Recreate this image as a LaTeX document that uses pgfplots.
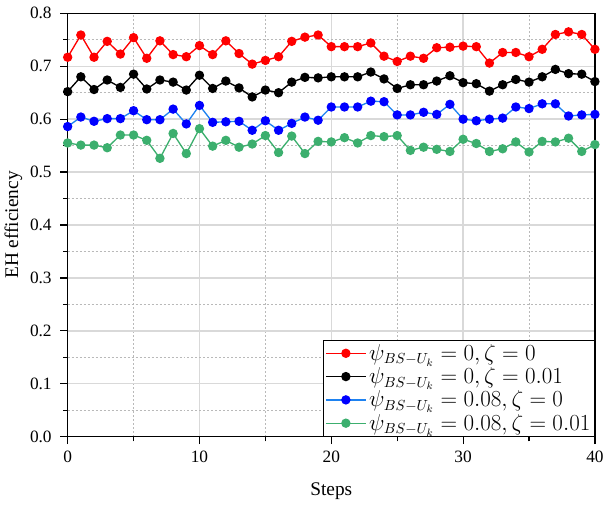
\documentclass[border=0pt]{standalone}
\usepackage{fontspec}
\setmainfont{Liberation Serif}
\usepackage{pgfplots}
\usepackage{pgfplotstable}
\pgfplotsset{compat=1.18}

\definecolor{eff_green}{RGB}{60,175,110}
\definecolor{eff_blueline}{RGB}{30,130,240}

% step, psi=0 zeta=0, psi=0 zeta=0.01, psi=0.08 zeta=0, psi=0.08 zeta=0.01
\pgfplotstableread{
s  a     b     c     d
0  0.717 0.652 0.586 0.555
1  0.759 0.680 0.604 0.551
2  0.717 0.656 0.596 0.551
3  0.747 0.674 0.601 0.546
4  0.723 0.660 0.601 0.570
5  0.754 0.685 0.616 0.570
6  0.715 0.657 0.599 0.560
7  0.748 0.674 0.599 0.526
8  0.722 0.670 0.619 0.573
9  0.718 0.655 0.591 0.535
10 0.739 0.683 0.626 0.582
11 0.722 0.658 0.594 0.549
12 0.748 0.672 0.595 0.560
13 0.724 0.659 0.596 0.547
14 0.704 0.642 0.579 0.553
15 0.711 0.655 0.597 0.569
16 0.718 0.650 0.579 0.537
17 0.747 0.670 0.592 0.568
18 0.755 0.679 0.604 0.535
19 0.759 0.678 0.598 0.558
20 0.737 0.680 0.623 0.557
21 0.737 0.680 0.623 0.565
22 0.737 0.680 0.623 0.555
23 0.744 0.689 0.634 0.569
24 0.719 0.676 0.633 0.567
25 0.709 0.658 0.608 0.569
26 0.719 0.665 0.608 0.541
27 0.715 0.665 0.613 0.547
28 0.735 0.672 0.609 0.543
29 0.736 0.682 0.628 0.539
30 0.738 0.669 0.600 0.562
31 0.737 0.667 0.597 0.554
32 0.706 0.653 0.600 0.539
33 0.726 0.665 0.602 0.544
34 0.726 0.675 0.623 0.557
35 0.718 0.670 0.620 0.538
36 0.732 0.680 0.629 0.558
37 0.760 0.694 0.629 0.557
38 0.765 0.686 0.606 0.564
39 0.760 0.685 0.608 0.539
40 0.732 0.671 0.609 0.552
}\efftable

\begin{document}
\begin{tikzpicture}
\begin{axis}[
    width=396pt, height=318pt,
    scale only axis,
    xmin=0, xmax=40,
    ymin=0, ymax=0.8,
    xtick={0,10,...,40},
    ytick={0,0.1,...,0.8},
    minor x tick num=1,
    minor y tick num=1,
    xtick pos=bottom, ytick pos=left,
    tick align=outside,
    major tick length=5.5pt,
    minor tick length=3.5pt,
    axis line style={line width=1.1pt},
    every tick/.style={black, line width=0.9pt},
    grid=both,
    major grid style={gray!30, line width=1pt},
    minor grid style={gray!55, dash pattern=on 1.5pt off 1.5pt, line width=0.6pt},
    yticklabel style={/pgf/number format/fixed, /pgf/number format/fixed zerofill, /pgf/number format/precision=1},
    /pgf/number format/assume math mode=true,
    tick label style={font=\fontsize{13}{15}\selectfont},
    xticklabel style={yshift=-2pt},
    yticklabel style={xshift=-3pt},
    label style={font=\fontsize{14.5}{16}\selectfont},
    xlabel={Steps},
    ylabel={EH efficiency},
    xlabel style={yshift=-8pt},
    ylabel style={yshift=-1pt},
    legend style={at={(1,0)}, anchor=south east, font=\fontsize{16}{17}\selectfont,
        draw=black, line width=0.8pt, inner sep=1pt, row sep=0pt,
        cells={anchor=west}},
    legend image code/.code={%
        \draw[mark repeat=2, mark phase=2] plot coordinates {(0pt,0pt) (15pt,0pt) (30pt,0pt)};},
    every axis plot/.append style={line width=1pt, mark=*, mark size=3pt},
  ]
  \addplot[red, mark options={fill=red}] table[x=s, y=a] {\efftable};
  \addplot[black, mark options={fill=black}] table[x=s, y=b] {\efftable};
  \addplot[eff_blueline, mark options={draw=blue, fill=blue}] table[x=s, y=c] {\efftable};
  \addplot[eff_green, mark options={fill=eff_green}] table[x=s, y=d] {\efftable};
  \legend{{$\psi_{BS-U_k}=0,\zeta=0$},
          {$\psi_{BS-U_k}=0,\zeta=0.01$},
          {$\psi_{BS-U_k}=0.08,\zeta=0$},
          {$\psi_{BS-U_k}=0.08,\zeta=0.01$}}
\end{axis}
\path ([yshift=10pt]current axis.north);
\end{tikzpicture}
\end{document}
